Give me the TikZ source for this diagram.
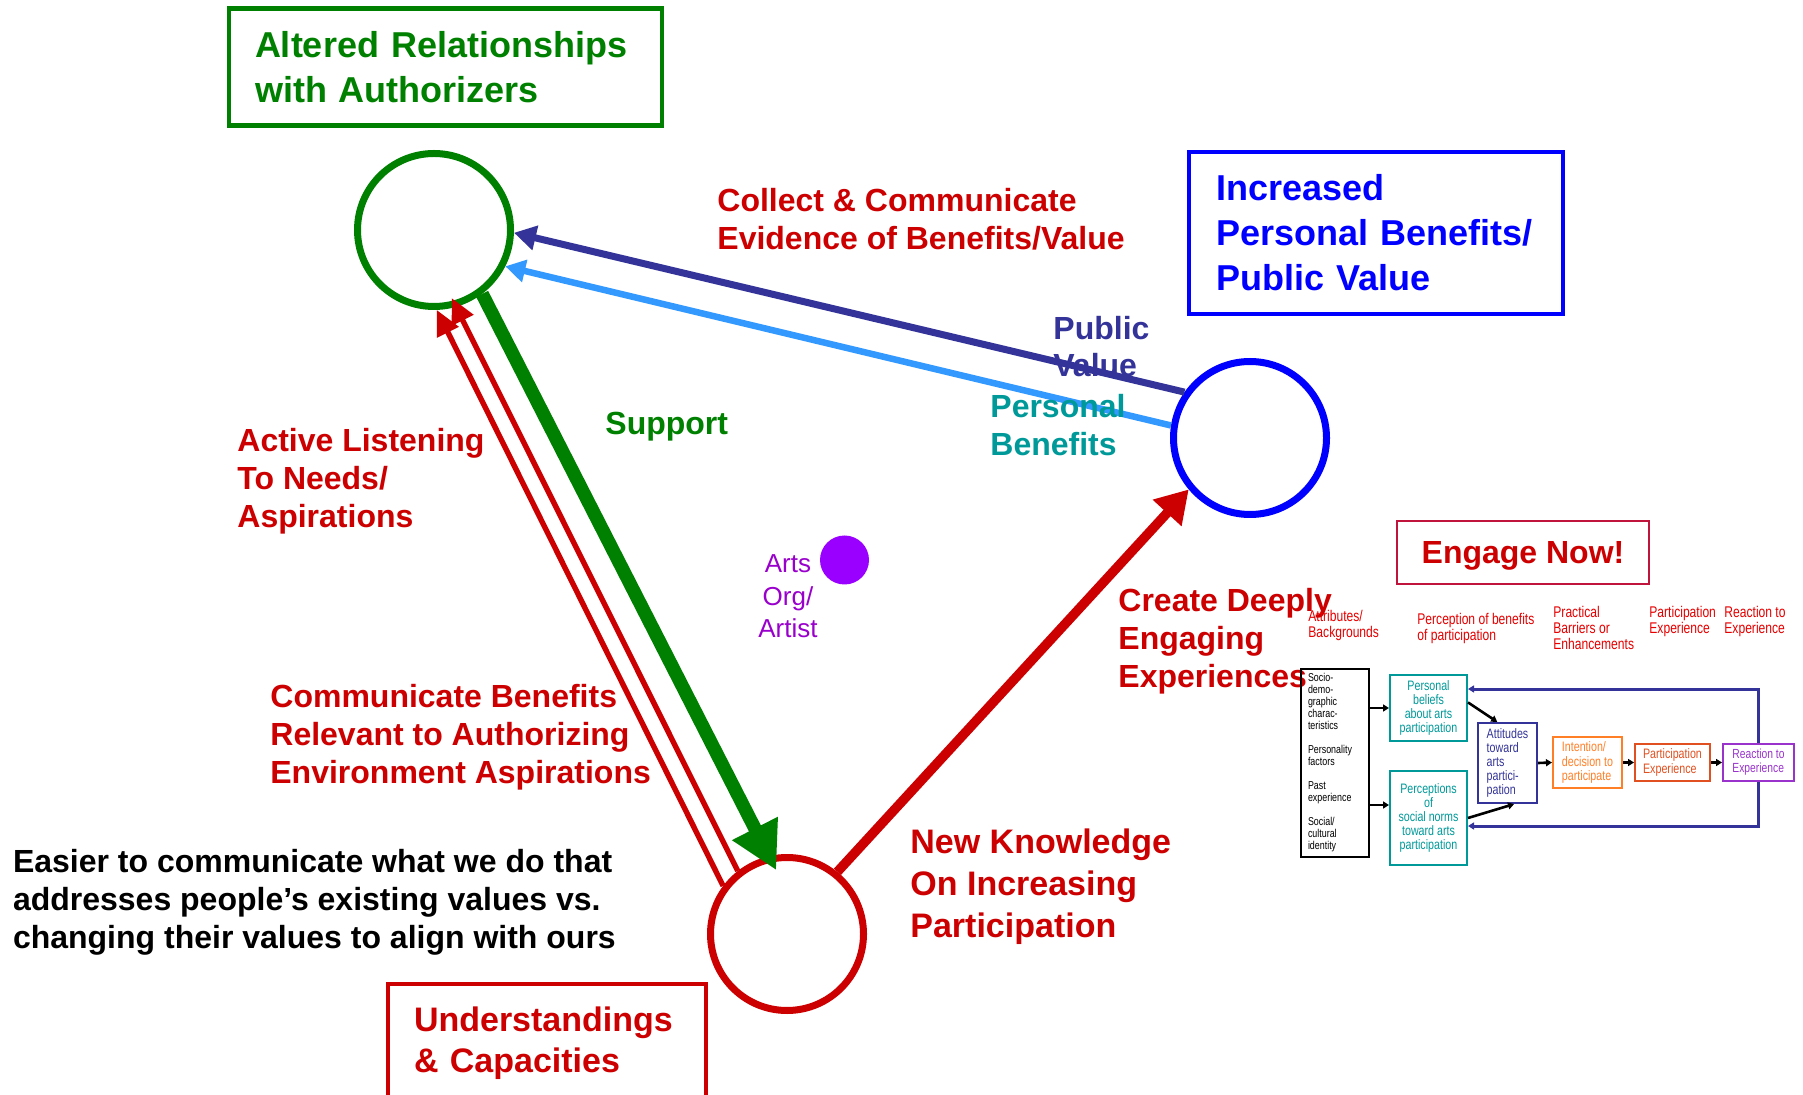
\documentclass[tikz,border=0pt]{standalone}
\usepackage{fontspec}
\setmainfont{Liberation Sans}
\newfontfamily\narrowfont[FakeStretch=0.78]{Liberation Sans}
\usepackage{tikz}
\usetikzlibrary{calc}
\usetikzlibrary{arrows.meta}

\definecolor{dkgreen}{HTML}{008000}
\definecolor{dkred}{HTML}{CC0000}
\definecolor{pvblue}{HTML}{333399}
\definecolor{pbblue}{HTML}{3399FF}
\definecolor{pbteal}{HTML}{009999}
\definecolor{artsdot}{HTML}{9900FF}
\definecolor{artstext}{HTML}{9900CC}
\definecolor{hdrred}{HTML}{E60000}
\definecolor{intorange}{HTML}{FF7F27}
\definecolor{pexorange}{HTML}{E05020}
\definecolor{rexviolet}{HTML}{9933CC}
\definecolor{engred}{HTML}{C0143C}

\begin{document}
\begin{tikzpicture}[x=0.5pt,y=-0.5pt,
    lbl/.style={anchor=base west,align=left,inner sep=0pt,font=\bfseries\fontsize{16}{19}\selectfont},
    ring/.style={circle,draw=#1,line width=3.5pt,minimum size=76.5pt,inner sep=0pt},
    titlebox/.style={draw=#1,text=#1,anchor=north west,align=left,inner ysep=0pt,outer sep=0pt,font=\bfseries\fontsize{18}{22.5}\selectfont},
    hdr/.style={anchor=base west,align=left,inner sep=0pt,text=hdrred,font=\narrowfont\fontsize{7.75}{8.25}\selectfont},
    fbox/.style={draw=#1,text=#1,line width=1pt,inner sep=0pt,align=left,font=\narrowfont\fontsize{6.85}{7.1}\selectfont},
    flow/.style={-{Triangle[width=3.5pt,length=3pt]},line width=1.3pt}
]

    \useasboundingbox (0,0) rectangle (1803,1095);
    \clip (0,0) rectangle (1803,1095);

    % Place the three circles
    \node[ring=dkgreen] (auth) at (434,230) {};
    \node[ring=blue]    (bene) at (1250,438) {};
    \node[ring=dkred]   (capa) at (787,934) {};

    % Place the boxes
    \node[titlebox=dkgreen,line width=2.25pt,inner xsep=13pt,text width=190.5pt,minimum height=58.5pt] (authbox) at (229,8.4) {Altered Relationships\\with Authorizers};
    \node[titlebox=blue,line width=1.8pt,inner xsep=13.5pt,text width=160pt,minimum height=81pt] (benebox) at (1189,152) {Increased\\Personal Benefits/\\Public Value};
    \node[titlebox=dkred,line width=1.6pt,inner xsep=13pt,text width=133pt,minimum height=59.5pt,font=\bfseries\fontsize{17}{20.5}\selectfont] (capabox) at (388,984) {Understandings\\\& Capacities};
    \node[draw=engred,text=dkred,line width=1pt,minimum width=126pt,minimum height=31.5pt,text depth=0pt,font=\bfseries\fontsize{16}{19}\selectfont] (engage) at (1523,552.5) {Engage Now!};

    % Draw the arrows between the circles
    \draw[pvblue,line width=3.5pt,-{Triangle[width=12pt,length=11pt]}] (bene.145) -- (auth.-2);
    \draw[pbblue,line width=3.25pt,-{Triangle[width=11pt,length=10pt]}] (bene.171) -- (auth.-27);
    \draw[dkgreen,line width=6.7pt,-{Triangle[width=24pt,length=23.5pt]},shorten >=-8pt] (auth.-53) -- (capa.103);
    \draw[dkred,line width=2.7pt,-{Triangle[width=11.5pt,length=12.5pt]}] (capa.143) -- (auth.-88);
    \draw[dkred,line width=2.7pt,-{Triangle[width=11.5pt,length=12.5pt]},shorten >=-5pt] (capa.128) -- (auth.-74);
    \draw[dkred,line width=4.75pt,-{Triangle[width=18.5pt,length=16pt]}] (capa.51) -- (bene.220);

    % Place the arts org (base is the last line)
    \node[circle,fill=artsdot,minimum size=24.5pt,inner sep=0pt] (dot) at (844.5,560) {};
    \node[anchor=base,align=center,inner sep=0pt,text=artstext,font=\fontsize{13}{16.25}\selectfont] (arts) at (788,638) {Arts\\Org/\\Artist};

    % Place the labels (base is the last line)
    \node[lbl,text=dkred] (collect) at (717,250) {Collect \& Communicate\\Evidence of Benefits/Value};
    \node[lbl,text=pvblue,font=\bfseries\fontsize{16}{18.5}\selectfont] (pubval) at (1053,377) {Public\\Value};
    \node[lbl,text=pbteal] (persben) at (990,456) {Personal\\Benefits};
    \node[lbl,text=dkgreen] (support) at (605,435) {Support};
    \node[lbl,text=dkred] (listen) at (237,528) {Active Listening\\To Needs/\\Aspirations};
    \node[lbl,text=dkred] (commben) at (270,783) {Communicate Benefits\\Relevant to Authorizing\\Environment Aspirations};
    \node[lbl,text=dkred] (create) at (1118,688) {Create Deeply\\Engaging\\Experiences};
    \node[lbl,text=dkred,font=\bfseries\fontsize{17}{21}\selectfont] (newknow) at (910,937) {New Knowledge\\On Increasing\\Participation};
    \node[lbl] (easier) at (12.6,948) {Easier to communicate what we do that\\addresses people’s existing values vs.\\changing their values to align with ours};

    % Place the headers of the model
    \node[hdr] (hattr) at (1308,638) {Attributes/\\Backgrounds};
    \node[hdr] (hperc) at (1417,640.5) {Perception of benefits\\of participation};
    \node[hdr] (hprac) at (1553,650) {Practical\\Barriers or\\Enhancements};
    \node[hdr] (hpart) at (1649,633.8) {Participation\\Experience};
    \node[hdr] (hreac) at (1724,633.8) {Reaction to\\Experience};

    % Place the boxes of the model
    \node[fbox=black,line width=0.85pt,text width=27pt,inner xsep=3.5pt,minimum height=94pt,font=\narrowfont\fontsize{5.7}{6}\selectfont] (blk) at (1335,763) {Socio-\\demo-\\graphic\\charac-\\teristics\\[6pt]Personality\\factors\\[6pt]Past\\experience\\[6pt]Social/\\cultural\\identity};
    \node[fbox=pbteal,align=center,minimum width=38.5pt,minimum height=33pt] (pbel) at (1428.5,708) {Personal\\beliefs\\about arts\\participation};
    \node[fbox=pbteal,align=center,minimum width=38.5pt,minimum height=47pt] (psoc) at (1428.5,818) {Perceptions\\of\\social norms\\toward arts\\participation};
    \node[fbox=pvblue,line width=1.1pt,minimum width=29.5pt,minimum height=40pt] (att) at (1507.5,763) {Attitudes\\toward\\arts\\partici-\\pation};
    \node[fbox=intorange,minimum width=34.5pt,minimum height=25.5pt] (intent) at (1587.5,762.5) {Intention/\\decision to\\participate};
    \node[fbox=pexorange,minimum width=37.5pt,minimum height=18.5pt,font=\narrowfont\fontsize{6.85}{7.5}\selectfont] (pex) at (1672.5,762.5) {Participation\\Experience};
    \node[fbox=rexviolet,minimum width=35.5pt,minimum height=18.5pt,font=\narrowfont\fontsize{6.6}{7}\selectfont] (rex) at (1758.5,762.5) {Reaction to\\Experience};

    % Draw the arrows of the model
    \coordinate (psocin) at ($(psoc.west)+(0,-13)$);
    \coordinate (fbtop) at ($(pbel.east)+(0,-19)$);
    \coordinate (fbbot) at ($(psoc.east)+(0,8)$);
    \draw[flow] (blk.east |- pbel.west) -- (pbel.west);
    \draw[flow] (blk.east |- psocin) -- (psocin);
    \draw[flow] (pbel.8) -- (att.104);
    \draw[flow] (psoc.east) -- (att.-81);
    \draw[flow] (att.east) -- (intent.west);
    \draw[flow] (intent.east) -- (pex.west);
    \draw[flow] (pex.east) -- (rex.west);
    \draw[flow,pvblue,line width=1.5pt] (rex.north) |- (fbtop);
    \draw[flow,pvblue,line width=1.5pt] (rex.south) |- (fbbot);

\end{tikzpicture}
\end{document}
